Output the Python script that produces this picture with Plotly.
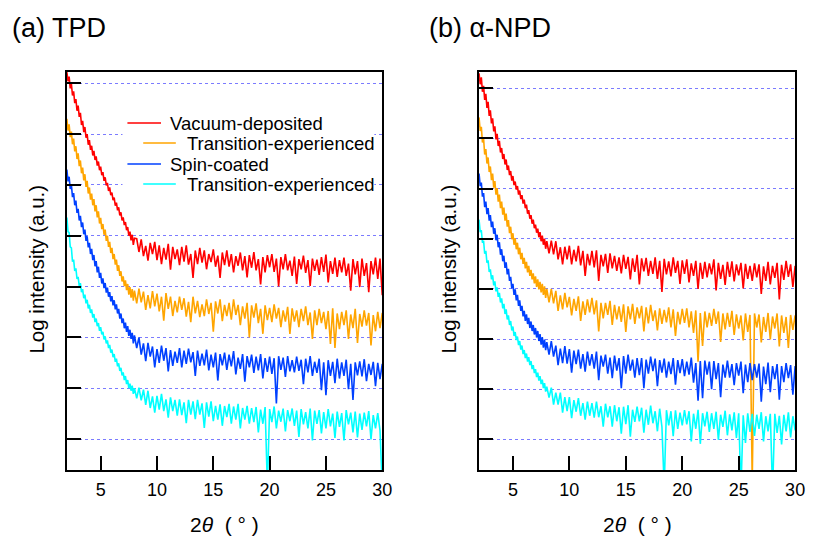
import plotly.graph_objects as go

# ---- scan grid (2theta, degrees): 0.1 deg steps to 8 deg, 0.2 deg steps beyond
two_theta = [round(2.0 + 0.1 * i, 1) for i in range(61)] + [round(8.2 + 0.2 * i, 1) for i in range(110)]

# ---- log intensity (decades, arbitrary offset) ----
tpd_vacuum = [
    7.22, 7.04, 7.13, 6.90, 6.99, 6.76, 6.84, 6.61, 6.69, 6.46, 6.56,
    6.34, 6.42, 6.18, 6.26, 6.04, 6.14, 5.93, 6.00, 5.79, 5.88,
    5.69, 5.77, 5.58, 5.67, 5.49, 5.56, 5.38, 5.46, 5.29, 5.36,
    5.19, 5.25, 5.08, 5.15, 4.99, 5.04, 4.88, 4.95, 4.80, 4.85,
    4.70, 4.75, 4.59, 4.65, 4.50, 4.56, 4.40, 4.46, 4.30, 4.36,
    4.21, 4.27, 4.11, 4.17, 4.00, 4.08, 3.91, 4.02, 3.82, 3.95,
    3.94, 3.68, 3.93, 3.60, 3.80, 3.51, 3.86, 3.64, 3.88, 3.52,
    3.81, 3.44, 3.76, 3.53, 3.84, 3.33, 3.78, 3.54, 3.73, 3.42,
    3.78, 3.49, 3.81, 3.43, 3.64, 3.17, 3.71, 3.44, 3.76, 3.47,
    3.71, 3.34, 3.64, 3.48, 3.73, 3.39, 3.61, 3.17, 3.67, 3.42,
    3.71, 3.39, 3.64, 3.28, 3.60, 3.41, 3.67, 3.32, 3.60, 3.18,
    3.62, 3.37, 3.68, 3.32, 3.54, 3.04, 3.58, 3.28, 3.62, 3.38,
    3.64, 3.29, 3.55, 3.00, 3.58, 3.34, 3.64, 3.32, 3.51, 3.21,
    3.59, 3.05, 3.54, 3.34, 3.61, 3.27, 3.52, 3.01, 3.55, 3.31,
    3.53, 3.23, 3.58, 3.29, 3.63, 3.08, 3.50, 3.25, 3.57, 3.19,
    3.52, 3.28, 3.57, 3.21, 3.45, 2.92, 3.54, 3.24, 3.50, 2.99,
    3.55, 3.21, 3.46, 2.89, 3.50, 3.24, 3.57, 3.15, 3.55, 2.83,
]
tpd_vacuum_trans = [
    6.30, 6.07, 6.19, 5.94, 6.05, 5.80, 5.91, 5.66, 5.76, 5.51, 5.62,
    5.37, 5.48, 5.23, 5.34, 5.09, 5.21, 4.96, 5.08, 4.83, 4.95,
    4.71, 4.83, 4.60, 4.72, 4.48, 4.60, 4.36, 4.48, 4.24, 4.35,
    4.13, 4.23, 4.02, 4.12, 3.90, 4.00, 3.78, 3.88, 3.66, 3.76,
    3.54, 3.64, 3.43, 3.53, 3.31, 3.42, 3.21, 3.30, 3.10, 3.20,
    3.01, 3.12, 2.93, 3.05, 2.84, 2.99, 2.78, 2.95, 2.72, 2.92,
    2.67, 2.96, 2.69, 2.90, 2.54, 2.83, 2.57, 2.91, 2.61, 2.86,
    2.51, 2.80, 2.33, 2.87, 2.56, 2.80, 2.42, 2.72, 2.49, 2.80,
    2.54, 2.77, 2.41, 2.70, 2.30, 2.80, 2.47, 2.72, 2.40, 2.65,
    2.42, 2.75, 2.46, 2.68, 2.11, 2.71, 2.47, 2.75, 2.32, 2.64,
    2.42, 2.68, 2.35, 2.75, 2.44, 2.64, 2.24, 2.61, 2.37, 2.68,
    2.00, 2.63, 2.39, 2.67, 2.28, 2.56, 2.07, 2.63, 2.34, 2.58,
    2.30, 2.65, 2.37, 2.58, 2.20, 2.53, 2.31, 2.60, 2.07, 2.57,
    2.31, 2.53, 2.20, 2.56, 2.32, 2.61, 2.24, 2.49, 1.97, 2.53,
    2.24, 2.56, 2.28, 2.50, 2.16, 2.52, 1.87, 2.57, 1.79, 2.47,
    2.16, 2.50, 2.24, 2.53, 1.97, 2.45, 2.18, 2.56, 1.89, 2.46,
    2.21, 2.53, 2.23, 2.48, 1.84, 2.44, 2.12, 2.50, 2.18, 2.48,
]
tpd_spin = [
    5.30, 5.07, 5.16, 4.92, 5.00, 4.76, 4.84, 4.60, 4.69, 4.45, 4.53,
    4.30, 4.39, 4.17, 4.26, 4.03, 4.12, 3.90, 3.99, 3.77, 3.86,
    3.64, 3.74, 3.52, 3.62, 3.40, 3.50, 3.28, 3.39, 3.17, 3.27,
    3.06, 3.16, 2.97, 3.07, 2.88, 2.98, 2.80, 2.89, 2.71, 2.81,
    2.63, 2.73, 2.55, 2.65, 2.47, 2.56, 2.37, 2.47, 2.28, 2.37,
    2.18, 2.29, 2.11, 2.22, 2.03, 2.15, 1.97, 2.09, 1.88, 2.04,
    1.79, 2.00, 1.66, 1.88, 1.53, 1.89, 1.62, 1.82, 1.41, 1.77,
    1.50, 1.84, 1.54, 1.79, 1.33, 1.75, 1.44, 1.72, 1.50, 1.79,
    1.41, 1.74, 1.48, 1.78, 1.51, 1.71, 1.24, 1.74, 1.44, 1.68,
    1.45, 1.76, 1.35, 1.66, 1.41, 1.70, 1.15, 1.67, 1.45, 1.70,
    1.36, 1.66, 1.43, 1.73, 1.27, 1.60, 1.38, 1.67, 1.13, 1.63,
    1.41, 1.66, 1.30, 1.62, 1.35, 1.67, 1.19, 1.59, 1.32, 1.62,
    1.28, 1.59, 0.70, 1.63, 1.36, 1.60, 1.22, 1.63, 1.33, 1.55,
    1.31, 1.62, 1.34, 1.56, 1.08, 1.58, 1.31, 1.63, 1.24, 1.52,
    1.30, 1.58, 0.96, 1.51, 0.86, 1.55, 1.24, 1.52, 1.10, 1.58,
    1.19, 1.51, 1.24, 1.56, 0.98, 1.48, 0.77, 1.51, 1.25, 1.53,
    1.23, 1.57, 1.14, 1.48, 1.26, 1.52, 1.04, 1.50, 1.18, 1.48,
]
tpd_spin_trans = [
    4.36, 4.08, 4.06, 3.78, 3.76, 3.49, 3.53, 3.31, 3.36, 3.15, 3.19,
    3.01, 3.07, 2.89, 2.95, 2.77, 2.84, 2.67, 2.74, 2.57, 2.64,
    2.48, 2.55, 2.39, 2.46, 2.30, 2.37, 2.22, 2.28, 2.13, 2.20,
    2.06, 2.11, 1.96, 2.02, 1.88, 1.94, 1.79, 1.85, 1.70, 1.76,
    1.61, 1.67, 1.52, 1.58, 1.43, 1.49, 1.34, 1.40, 1.25, 1.31,
    1.16, 1.24, 1.08, 1.16, 1.00, 1.09, 0.95, 1.05, 0.89, 1.00,
    0.80, 1.01, 0.76, 0.97, 0.67, 0.95, 0.61, 0.84, 0.52, 0.85,
    0.58, 0.89, 0.55, 0.78, 0.42, 0.82, 0.55, 0.77, 0.46, 0.78,
    0.47, 0.72, 0.31, 0.77, 0.48, 0.74, 0.39, 0.77, 0.48, 0.70,
    0.22, 0.72, 0.44, 0.74, 0.35, 0.65, 0.38, 0.68, 0.26, 0.65,
    0.43, 0.69, 0.30, 0.64, 0.38, 0.69, 0.21, 0.61, 0.38, 0.65,
    0.30, 0.61, 0.33, 0.63, 0.13, 0.58, 0.30, 0.63, -0.93, 0.59,
    0.33, 0.64, 0.21, 0.56, 0.34, 0.60, 0.15, 0.57, 0.35, 0.60,
    0.26, 0.56, 0.04, 0.59, 0.29, 0.53, 0.21, 0.60, -0.03, 0.56,
    0.30, 0.57, 0.11, 0.53, 0.21, 0.59, 0.25, 0.50, 0.02, 0.54,
    0.24, 0.51, -0.03, 0.57, 0.29, 0.52, 0.13, 0.54, 0.03, 0.50,
    0.18, 0.52, 0.25, 0.55, -0.01, 0.47, 0.21, 0.51, 0.17, -0.93,
]
npd_vacuum = [
    7.30, 7.08, 7.22, 6.93, 7.05, 6.77, 6.89, 6.61, 6.73, 6.45, 6.56,
    6.30, 6.40, 6.14, 6.24, 5.98, 6.09, 5.85, 5.95, 5.72, 5.81,
    5.59, 5.69, 5.48, 5.58, 5.37, 5.46, 5.27, 5.35, 5.16, 5.25,
    5.07, 5.14, 4.98, 5.05, 4.88, 4.96, 4.79, 4.87, 4.70, 4.78,
    4.61, 4.68, 4.50, 4.57, 4.40, 4.47, 4.30, 4.38, 4.21, 4.28,
    4.12, 4.20, 4.03, 4.13, 3.95, 4.06, 3.88, 4.00, 3.80, 3.95,
    3.71, 3.96, 3.69, 3.95, 3.59, 3.83, 3.49, 3.84, 3.59, 3.86,
    3.49, 3.78, 3.55, 3.86, 3.47, 3.76, 3.26, 3.70, 3.47, 3.76,
    3.43, 3.77, 3.16, 3.68, 3.45, 3.70, 3.32, 3.71, 3.41, 3.66,
    3.36, 3.63, 3.31, 3.68, 3.40, 3.64, 3.19, 3.61, 3.34, 3.68,
    3.09, 3.61, 3.35, 3.62, 3.26, 3.56, 3.30, 3.63, 3.20, 3.56,
    2.94, 3.60, 3.29, 3.55, 3.25, 3.63, 3.32, 3.56, 3.10, 3.57,
    3.30, 3.59, 3.13, 3.51, 3.26, 3.56, 3.00, 3.52, 3.20, 3.54,
    3.23, 3.51, 3.29, 3.59, 2.97, 3.52, 3.20, 3.48, 3.08, 3.54,
    3.24, 3.55, 3.15, 3.49, 3.27, 3.52, 3.01, 3.50, 3.20, 3.46,
    3.16, 3.51, 3.23, 3.49, 2.90, 3.45, 3.16, 3.54, 3.09, 3.46,
    3.22, 3.52, 2.79, 3.48, 3.18, 3.56, 3.24, 3.49, 3.04, 3.46,
]
npd_vacuum_trans = [
    6.42, 6.15, 6.23, 5.92, 6.00, 5.68, 5.79, 5.50, 5.62, 5.33, 5.44,
    5.17, 5.30, 5.02, 5.15, 4.88, 5.01, 4.74, 4.88, 4.61, 4.74,
    4.48, 4.62, 4.36, 4.50, 4.24, 4.37, 4.11, 4.24, 3.99, 4.11,
    3.88, 4.01, 3.79, 3.92, 3.69, 3.82, 3.59, 3.72, 3.50, 3.62,
    3.41, 3.54, 3.33, 3.46, 3.26, 3.38, 3.19, 3.31, 3.11, 3.25,
    3.04, 3.19, 2.99, 3.14, 2.93, 3.10, 2.88, 3.05, 2.82, 3.00,
    2.73, 3.00, 2.71, 2.96, 2.56, 2.87, 2.59, 2.92, 2.63, 2.84,
    2.47, 2.80, 2.56, 2.85, 2.36, 2.75, 2.48, 2.79, 2.53, 2.82,
    2.49, 2.77, 2.15, 2.72, 2.41, 2.72, 2.48, 2.76, 2.28, 2.68,
    2.39, 2.65, 2.34, 2.69, 2.14, 2.65, 2.39, 2.70, 2.30, 2.63,
    2.41, 2.66, 2.15, 2.63, 2.31, 2.68, 2.36, 2.57, 2.17, 2.61,
    2.30, 2.58, 2.33, 2.63, 2.23, 2.59, 2.06, 2.54, 2.29, 2.60,
    2.32, 2.61, 2.23, 2.55, 2.12, 2.57, 1.55, 2.52, 1.86, 2.55,
    2.23, 2.52, 2.26, 2.60, 2.30, 2.55, 1.94, 2.51, 2.19, 2.52,
    2.24, 2.56, 2.08, 2.49, 2.21, 2.47, 1.97, 2.51, 2.14, 2.48,
    -0.84, 2.51, 2.23, 2.49, 1.93, 2.44, 2.14, 2.52, 1.99, 2.45,
    2.21, 2.51, 1.85, 2.47, 2.12, 2.44, 1.82, 2.48, 2.18, 2.47,
]
npd_spin = [
    5.30, 5.05, 5.12, 4.84, 4.91, 4.63, 4.74, 4.49, 4.61, 4.36, 4.47,
    4.23, 4.34, 4.10, 4.21, 3.97, 4.08, 3.83, 3.93, 3.68, 3.79,
    3.55, 3.66, 3.42, 3.53, 3.29, 3.40, 3.16, 3.24, 3.01, 3.10,
    2.88, 2.99, 2.77, 2.88, 2.66, 2.77, 2.56, 2.66, 2.45, 2.56,
    2.36, 2.49, 2.30, 2.42, 2.22, 2.35, 2.16, 2.28, 2.09, 2.22,
    2.03, 2.16, 1.96, 2.10, 1.89, 2.04, 1.83, 1.99, 1.78, 1.94,
    1.69, 1.96, 1.65, 1.87, 1.48, 1.81, 1.52, 1.86, 1.51, 1.80,
    1.33, 1.77, 1.50, 1.79, 1.41, 1.70, 1.35, 1.75, 1.47, 1.70,
    1.41, 1.75, 1.18, 1.67, 1.45, 1.69, 1.31, 1.63, 1.22, 1.67,
    1.37, 1.62, 1.02, 1.66, 1.31, 1.69, 1.37, 1.59, 1.23, 1.62,
    1.28, 1.62, 1.02, 1.59, 1.31, 1.65, 1.36, 1.61, 1.06, 1.58,
    1.33, 1.61, 1.23, 1.55, 1.30, 1.62, 1.09, 1.58, 1.32, 1.60,
    1.26, 1.55, 1.29, 1.63, 1.13, 1.52, 0.77, 1.56, 0.82, 1.57,
    1.29, 1.55, 1.00, 1.56, 1.20, 1.52, 0.84, 1.49, 1.23, 1.57,
    1.23, 1.50, 1.08, 1.52, 1.27, 1.55, 0.92, 1.49, 1.14, 1.52,
    1.18, 1.50, 1.23, 1.51, 0.75, 1.45, 1.10, 1.53, 0.94, 1.46,
    1.20, 1.50, 0.79, 1.46, 1.14, 1.52, 1.22, 1.48, 0.89, 1.46,
]
npd_spin_trans = [
    4.38, 4.13, 4.17, 3.92, 3.96, 3.70, 3.76, 3.52, 3.57, 3.34, 3.39,
    3.19, 3.27, 3.07, 3.15, 2.95, 3.03, 2.84, 2.92, 2.73, 2.81,
    2.61, 2.70, 2.50, 2.59, 2.39, 2.47, 2.28, 2.36, 2.17, 2.25,
    2.06, 2.14, 1.98, 2.05, 1.88, 1.96, 1.79, 1.87, 1.70, 1.78,
    1.62, 1.71, 1.55, 1.64, 1.48, 1.56, 1.40, 1.48, 1.32, 1.40,
    1.24, 1.33, 1.17, 1.26, 1.10, 1.19, 1.02, 1.12, 0.95, 1.05,
    0.83, 1.03, 0.69, 0.93, 0.69, 0.93, 0.53, 0.84, 0.56, 0.84,
    0.42, 0.78, 0.55, 0.82, 0.47, 0.72, 0.39, 0.75, 0.47, 0.72,
    0.43, 0.75, 0.44, 0.66, 0.25, 0.71, 0.44, 0.66, 0.25, 0.68,
    0.36, 0.64, 0.11, 0.65, 0.30, 0.68, 0.05, 0.59, 0.35, 0.65,
    0.36, 0.63, 0.13, 0.59, 0.29, 0.67, 0.32, 0.56, 0.16, 0.61,
    0.25, -0.95, 0.58, 0.28, 0.56, 0.06, 0.58, 0.21, 0.53, 0.28,
    0.58, 0.30, 0.56, -0.04, 0.51, 0.21, 0.59, -0.09, 0.52, 0.26,
    0.55, 0.15, 0.52, 0.21, 0.55, -0.01, 0.49, 0.25, 0.57, 0.08,
    0.50, 0.18, 0.54, 0.03, 0.52, -1.02, 0.48, -0.07, 0.52, 0.15,
    0.51, 0.07, 0.49, 0.21, 0.54, -0.04, 0.46, 0.16, 0.51, -1.04,
    0.51, 0.13, 0.47, -0.10, 0.49, 0.16, 0.54, 0.04, 0.46, 0.18,
]

x_ticks = [5, 10, 15, 20, 25, 30]
y_ticks = [0, 1, 2, 3, 4, 5, 6, 7]

colors = {"vac": "#ff0000", "vac_t": "#ffa500", "spin": "#0040ff", "spin_t": "#00ffff"}
legend_labels = ["Vacuum-deposited", "Transition-experienced", "Spin-coated", "Transition-experienced"]

W, H = 816, 537
FONT = "Liberation Sans, Arial, sans-serif"

fig = go.Figure()
panels = [
    ("x", "y", [tpd_vacuum, tpd_vacuum_trans, tpd_spin, tpd_spin_trans]),
    ("x2", "y2", [npd_vacuum, npd_vacuum_trans, npd_spin, npd_spin_trans]),
]
keys = ["vac", "vac_t", "spin", "spin_t"]
for xa, ya, series in panels:
    for k, s in zip(keys, series):
        assert len(s) == len(two_theta)
        fig.add_trace(go.Scatter(x=two_theta, y=s, mode="lines", xaxis=xa, yaxis=ya,
                                 line=dict(color=colors[k], width=1.6), showlegend=False,
                                 hoverinfo="skip"))

def px(x):
    return x / W

def py(y):
    return 1 - y / H

xdomA = [px(67.7), px(387)]
xdomB = [px(485), px(805)]
ydom = [py(470), py(72)]

xcommon = dict(range=[2, 30], tickmode="array", tickvals=x_ticks, ticks="inside", ticklen=14,
               tickwidth=1.5, tickcolor="black", showline=True, linecolor="black", linewidth=1.6,
               mirror=True, showgrid=False, zeroline=False,
               tickfont=dict(family=FONT, size=18, color="black"), ticklabelstandoff=3)
ycommon = dict(tickmode="array", tickvals=y_ticks, ticks="inside", ticklen=14, tickwidth=1.5,
               tickcolor="black", showticklabels=False, showline=True, linecolor="black",
               linewidth=1.6, mirror=True, showgrid=True, gridcolor="#7b7bff", griddash="dot",
               gridwidth=1, zeroline=False)

fig.update_layout(
    width=W, height=H, margin=dict(l=0, r=0, t=0, b=0),
    paper_bgcolor="white", plot_bgcolor="white",
    xaxis=dict(domain=xdomA, anchor="y", **xcommon),
    yaxis=dict(domain=ydom, anchor="x", range=[-0.61, 7.222], **ycommon),
    xaxis2=dict(domain=xdomB, anchor="y2", **xcommon),
    yaxis2=dict(domain=ydom, anchor="x2", range=[-0.612, 7.325], **ycommon),
)

ann = []
# panel titles
ann.append(dict(text="(a) TPD", x=px(10), y=py(28), xanchor="left", yanchor="middle"))
ann.append(dict(text="(b) α-NPD", x=px(432), y=py(28), xanchor="left", yanchor="middle"))
for a in ann:
    a["font"] = dict(family=FONT, size=27, color="black")
# axis titles
for cx in [(67.7 + 387) / 2, (485 + 805) / 2]:
    ann.append(dict(text="2<i>θ</i>  ( ° )", x=px(cx), y=py(524), xanchor="center", yanchor="middle",
                    font=dict(family=FONT, size=21, color="black")))
for cx in [36, 454]:
    ann.append(dict(text="Log intensity (a.u.)", x=px(cx), y=py(269), xanchor="center",
                    yanchor="middle", textangle=-90, font=dict(family=FONT, size=20.5, color="black")))

# legend (panel a), drawn manually to keep the indentation of the original
shapes = [dict(type="rect", xref="paper", yref="paper", x0=px(124), x1=px(379),
               y0=py(197), y1=py(109), fillcolor="white", line=dict(width=0), layer="above")]
leg_rows = [(123, 129, 163, 170), (143, 145, 178, 187), (164, 129, 163, 170), (184, 145, 178, 187)]
for (yy, x0, x1, tx), k, lab in zip(leg_rows, keys, legend_labels):
    shapes.append(dict(type="line", xref="paper", yref="paper", x0=px(x0), x1=px(x1),
                       y0=py(yy), y1=py(yy), line=dict(color=colors[k], width=1.3), layer="above"))
    ann.append(dict(text=lab, x=px(tx), y=py(yy), xanchor="left", yanchor="middle",
                    font=dict(family=FONT, size=18.5, color="black")))

for a in ann:
    a.setdefault("xref", "paper")
    a.setdefault("yref", "paper")
    a.setdefault("showarrow", False)
fig.update_layout(annotations=ann, shapes=shapes)

fig.write_html("out.html")
